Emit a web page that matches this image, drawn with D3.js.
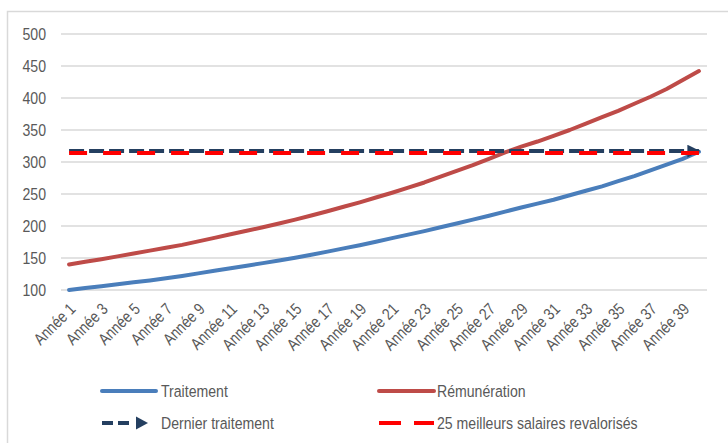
<!DOCTYPE html>
<html>
<head>
<meta charset="utf-8">
<script src="https://cdn.jsdelivr.net/npm/d3@7"></script>
<style>
  html, body { margin: 0; padding: 0; background: #fff; }
  svg { display: block; }
  text { font-family: "Liberation Sans", Arial, sans-serif; fill: #595959; }
</style>
</head>
<body>
<svg id="chart" width="728" height="443"></svg>
<script>
// Categories: career years
const annees = ["Année 1","Année 2","Année 3","Année 4","Année 5","Année 6","Année 7","Année 8","Année 9","Année 10",
  "Année 11","Année 12","Année 13","Année 14","Année 15","Année 16","Année 17","Année 18","Année 19","Année 20",
  "Année 21","Année 22","Année 23","Année 24","Année 25","Année 26","Année 27","Année 28","Année 29","Année 30",
  "Année 31","Année 32","Année 33","Année 34","Année 35","Année 36","Année 37","Année 38","Année 39","Année 40"];

// Indexed base salary (traitement)
const traitement = [100,103,106,109,112,115,118.5,122,126,130,
  134,138,142,146,150.5,155,160,165,170,175.5,
  181,186.5,192,198,204,210,216,222.5,229,235,
  241,248,255,262,270,278,287,296,305,316];

// Indexed total pay (rémunération)
const remuneration = [140,144,148,152.5,157,161.5,166,170.5,176,181.5,
  187,192.5,198,204,210,216.5,223,230,237,244.5,
  252,260,268,277,286,295,305,315,324,332,
  341,350,360,370,380,391,402,414,428,442];

// Pension reference levels
const dernierTraitement = 317;
const meilleursSalaires = 314;

const yTicks = [100,150,200,250,300,350,400,450,500];

// Narrow look for all labels
const NARROW = 0.83;

const svg = d3.select("#chart");

const x = d3.scalePoint().domain(annees).range([61, 707]).padding(0.5);
const y = d3.scaleLinear().domain([100, 500]).range([290, 34]);

// Chart frame (top and left edges)
svg.append("path")
  .attr("d", "M7.5,443 V11.5 H728")
  .attr("fill", "none")
  .attr("stroke", "#d9d9d9")
  .attr("stroke-width", 1.5);

// Horizontal gridlines
svg.append("g").selectAll("line").data(yTicks).join("line")
  .attr("x1", 61).attr("x2", 707)
  .attr("y1", d => y(d)).attr("y2", d => y(d))
  .attr("stroke", "#d9d9d9").attr("stroke-width", 1.5);

// Y axis labels
const yAxis = d3.axisLeft(y).tickValues(yTicks).tickSize(0).tickPadding(0);
const gy = svg.append("g").attr("transform", "translate(46,0)").call(yAxis);
gy.select(".domain").remove();
gy.selectAll("text")
  .attr("font-size", 17).attr("fill", "#595959")
  .attr("transform", `scale(${NARROW},1)`)
  .style("font-family", "\"Liberation Sans\", Arial, sans-serif");

// X axis labels (every other year, rotated)
const xAxis = d3.axisBottom(x).tickValues(annees.filter((d, i) => i % 2 === 0)).tickSize(0).tickPadding(0);
const gx = svg.append("g").attr("transform", "translate(0,297)").call(xAxis);
gx.select(".domain").remove();
gx.selectAll("text")
  .attr("font-size", 16.5)
  .attr("fill", "#595959")
  .attr("text-anchor", "end")
  .attr("dy", "0")
  .attr("transform", `translate(7,13) rotate(-45) scale(${NARROW},1)`)
  .style("font-family", "\"Liberation Sans\", Arial, sans-serif");

const line = d3.line().x((d, i) => x(annees[i])).y(d => y(d));

svg.append("path").datum(traitement)
  .attr("d", line).attr("fill", "none")
  .attr("stroke", "#4a7ebb").attr("stroke-width", 4).attr("stroke-linejoin", "round").attr("stroke-linecap", "round");

svg.append("path").datum(remuneration)
  .attr("d", line).attr("fill", "none")
  .attr("stroke", "#be4b48").attr("stroke-width", 4).attr("stroke-linejoin", "round").attr("stroke-linecap", "round");

// Arrowhead for the "dernier traitement" level
svg.append("defs").append("marker")
  .attr("id", "arrow").attr("viewBox", "0 0 10 10")
  .attr("refX", 9).attr("refY", 5)
  .attr("markerWidth", 3.8).attr("markerHeight", 3.2)
  .attr("markerUnits", "strokeWidth").attr("orient", "auto")
  .append("path").attr("d", "M0,0 L10,5 L0,10 Z").attr("fill", "#243f60");

const x0 = x(annees[0]), x1 = x(annees[annees.length - 1]);

svg.append("line")
  .attr("x1", x0).attr("x2", x1)
  .attr("y1", y(dernierTraitement)).attr("y2", y(dernierTraitement))
  .attr("stroke", "#243f60").attr("stroke-width", 4)
  .attr("stroke-dasharray", "15,5")
  .attr("marker-end", "url(#arrow)");

svg.append("line")
  .attr("x1", x0).attr("x2", x1)
  .attr("y1", y(meilleursSalaires)).attr("y2", y(meilleursSalaires))
  .attr("stroke", "#ff0000").attr("stroke-width", 4)
  .attr("stroke-dasharray", "18,16");

// Legend
const leg = svg.append("g");
const legFont = 17;
function legText(tx, ty, label) {
  leg.append("text")
    .attr("transform", `translate(${tx},${ty}) scale(${NARROW},1)`)
    .attr("font-size", legFont).text(label);
}

leg.append("line").attr("x1", 102).attr("x2", 156).attr("y1", 391).attr("y2", 391)
  .attr("stroke", "#4a7ebb").attr("stroke-width", 4).attr("stroke-linecap", "round");
legText(161, 397, "Traitement");

leg.append("line").attr("x1", 379).attr("x2", 434).attr("y1", 391).attr("y2", 391)
  .attr("stroke", "#be4b48").attr("stroke-width", 4).attr("stroke-linecap", "round");
legText(437, 397, "Rémunération");

leg.append("line").attr("x1", 102).attr("x2", 133).attr("y1", 423).attr("y2", 423)
  .attr("stroke", "#243f60").attr("stroke-width", 4).attr("stroke-dasharray", "11,5");
leg.append("path").attr("d", "M136,416.5 L148,423 L136,429.5 Z").attr("fill", "#243f60");
legText(161, 429, "Dernier traitement");

leg.append("line").attr("x1", 379).attr("x2", 434).attr("y1", 423).attr("y2", 423)
  .attr("stroke", "#ff0000").attr("stroke-width", 4).attr("stroke-dasharray", "22,13");
legText(437, 429, "25 meilleurs salaires revalorisés");
</script>
</body>
</html>
